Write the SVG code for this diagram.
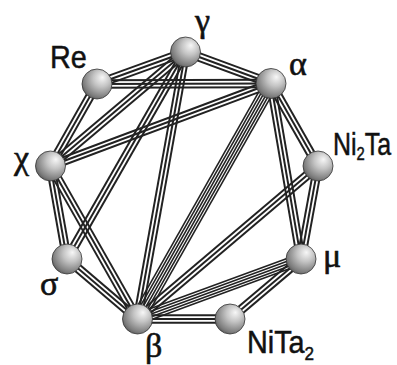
<svg xmlns="http://www.w3.org/2000/svg" width="397" height="365" viewBox="0 0 397 365">
<defs>
<radialGradient id="sph" cx="0.62" cy="0.36" r="0.7" fx="0.68" fy="0.28">
<stop offset="0" stop-color="#f7f7f7"/>
<stop offset="0.4" stop-color="#c4c4c4"/>
<stop offset="0.85" stop-color="#7c7c7c"/>
<stop offset="1" stop-color="#5a5a5a"/>
</radialGradient>
<style>
.c line{stroke:#222222;stroke-width:2;fill:none}
.m line{stroke:#222222;stroke-width:1.6;fill:none}
.node circle{fill:url(#sph);stroke:#333333;stroke-width:0.8}
.gr{font-family:"Liberation Serif","Times New Roman",serif;font-size:34px;fill:#111111;stroke:#111111;stroke-width:0.6}
.lt{font-family:"Liberation Sans",Arial,sans-serif;font-size:32px;fill:#111111;stroke:#111111;stroke-width:0.5}
</style>
</defs>
<rect width="397" height="365" fill="#ffffff"/>
<g id="connectors">
<!-- Re - gamma -->
<g class="c" transform="translate(97 84) rotate(-19.88)"><line x1="0" y1="-3.8" x2="94.1" y2="-3.8"/><line x1="0" y1="0" x2="94.1" y2="0"/><line x1="0" y1="3.8" x2="94.1" y2="3.8"/></g>
<!-- Re - alpha -->
<g class="c" transform="translate(97 84) rotate(-0.16)"><line x1="0" y1="-3.8" x2="174" y2="-3.8"/><line x1="0" y1="0" x2="174" y2="0"/><line x1="0" y1="3.8" x2="174" y2="3.8"/></g>
<!-- gamma - alpha -->
<g class="c" transform="translate(185.5 52) rotate(20.22)"><line x1="0" y1="-3.8" x2="91.1" y2="-3.8"/><line x1="0" y1="0" x2="91.1" y2="0"/><line x1="0" y1="3.8" x2="91.1" y2="3.8"/></g>
<!-- chi - gamma -->
<g class="c" transform="translate(50.5 166) rotate(-40.18)"><line x1="0" y1="-3.8" x2="176.7" y2="-3.8"/><line x1="0" y1="0" x2="176.7" y2="0"/><line x1="0" y1="3.8" x2="176.7" y2="3.8"/></g>
<!-- sigma - gamma -->
<g class="c" transform="translate(67 259) rotate(-60.21)"><line x1="0" y1="-3.8" x2="238.5" y2="-3.8"/><line x1="0" y1="0" x2="238.5" y2="0"/><line x1="0" y1="3.8" x2="238.5" y2="3.8"/></g>
<!-- beta - gamma -->
<g class="c" transform="translate(137.5 319) rotate(-79.81)"><line x1="0" y1="-3.8" x2="271.3" y2="-3.8"/><line x1="0" y1="0" x2="271.3" y2="0"/><line x1="0" y1="3.8" x2="271.3" y2="3.8"/></g>
<!-- chi - alpha -->
<g class="c" transform="translate(50.5 166) rotate(-20.51)"><line x1="0" y1="-3.8" x2="235.4" y2="-3.8"/><line x1="0" y1="0" x2="235.4" y2="0"/><line x1="0" y1="3.8" x2="235.4" y2="3.8"/></g>
<!-- chi - Re -->
<g class="c" transform="translate(50.5 166) rotate(-60.45)"><line x1="0" y1="-3.8" x2="94.3" y2="-3.8"/><line x1="0" y1="0" x2="94.3" y2="0"/><line x1="0" y1="3.8" x2="94.3" y2="3.8"/></g>
<!-- chi - sigma -->
<g class="c" transform="translate(50.5 166) rotate(79.94)"><line x1="0" y1="-3.8" x2="94.5" y2="-3.8"/><line x1="0" y1="0" x2="94.5" y2="0"/><line x1="0" y1="3.8" x2="94.5" y2="3.8"/></g>
<!-- chi - beta -->
<g class="c" transform="translate(50.5 166) rotate(60.38)"><line x1="0" y1="-3.8" x2="176" y2="-3.8"/><line x1="0" y1="0" x2="176" y2="0"/><line x1="0" y1="3.8" x2="176" y2="3.8"/></g>
<!-- sigma - beta -->
<g class="c" transform="translate(67 259) rotate(40.4)"><line x1="0" y1="-3.8" x2="92.6" y2="-3.8"/><line x1="0" y1="0" x2="92.6" y2="0"/><line x1="0" y1="3.8" x2="92.6" y2="3.8"/></g>
<!-- beta - alpha (6) -->
<g class="m" transform="translate(137.5 319) rotate(-60.45)"><line x1="0" y1="-6.5" x2="270.7" y2="-6.5"/><line x1="0" y1="-3.9" x2="270.7" y2="-3.9"/><line x1="0" y1="-1.3" x2="270.7" y2="-1.3"/><line x1="0" y1="1.3" x2="270.7" y2="1.3"/><line x1="0" y1="3.9" x2="270.7" y2="3.9"/><line x1="0" y1="6.5" x2="270.7" y2="6.5"/></g>
<!-- alpha - Ni2Ta -->
<g class="c" transform="translate(271 83.5) rotate(60.33)"><line x1="0" y1="-3.8" x2="95" y2="-3.8"/><line x1="0" y1="0" x2="95" y2="0"/><line x1="0" y1="3.8" x2="95" y2="3.8"/></g>
<!-- alpha - mu -->
<g class="c" transform="translate(271 83.5) rotate(80.3)"><line x1="0" y1="-3.8" x2="178" y2="-3.8"/><line x1="0" y1="0" x2="178" y2="0"/><line x1="0" y1="3.8" x2="178" y2="3.8"/></g>
<!-- Ni2Ta - mu -->
<g class="c" transform="translate(318 166) rotate(100.36)"><line x1="0" y1="-3.8" x2="94.5" y2="-3.8"/><line x1="0" y1="0" x2="94.5" y2="0"/><line x1="0" y1="3.8" x2="94.5" y2="3.8"/></g>
<!-- beta - Ni2Ta -->
<g class="c" transform="translate(137.5 319) rotate(-40.29)"><line x1="0" y1="-3.8" x2="236.6" y2="-3.8"/><line x1="0" y1="0" x2="236.6" y2="0"/><line x1="0" y1="3.8" x2="236.6" y2="3.8"/></g>
<!-- beta - mu (5) -->
<g class="m" transform="translate(137.5 319) rotate(-20.15)"><line x1="0" y1="-5.2" x2="174.2" y2="-5.2"/><line x1="0" y1="-2.6" x2="174.2" y2="-2.6"/><line x1="0" y1="0" x2="174.2" y2="0"/><line x1="0" y1="2.6" x2="174.2" y2="2.6"/><line x1="0" y1="5.2" x2="174.2" y2="5.2"/></g>
<!-- NiTa2 - mu -->
<g class="c" transform="translate(230 319) rotate(-40.2)"><line x1="0" y1="-3.8" x2="93" y2="-3.8"/><line x1="0" y1="0" x2="93" y2="0"/><line x1="0" y1="3.8" x2="93" y2="3.8"/></g>
<!-- beta - NiTa2 -->
<g class="c" transform="translate(137.5 319)"><line x1="0" y1="-3.8" x2="92.5" y2="-3.8"/><line x1="0" y1="0" x2="92.5" y2="0"/><line x1="0" y1="3.8" x2="92.5" y2="3.8"/></g>
</g>
<g id="n-gamma" class="node"><circle cx="185.5" cy="52" r="15"/><text class="gr" x="195" y="32">γ</text></g>
<g id="n-Re" class="node"><circle cx="97" cy="84" r="15"/><text class="lt" transform="translate(50 68) scale(0.9 1)">Re</text></g>
<g id="n-alpha" class="node"><circle cx="271" cy="83.5" r="15"/><text class="gr" x="289" y="75">α</text></g>
<g id="n-Ni2Ta" class="node"><circle cx="318" cy="166" r="15"/><text class="lt" transform="translate(333 155) scale(0.78 1)">Ni<tspan font-size="19" dy="5">2</tspan><tspan dy="-5">Ta</tspan></text></g>
<g id="n-chi" class="node"><circle cx="50.5" cy="166" r="15"/><text class="gr" x="14" y="169">χ</text></g>
<g id="n-mu" class="node"><circle cx="301" cy="259" r="15"/><text class="gr" x="323" y="267">μ</text></g>
<g id="n-sigma" class="node"><circle cx="67" cy="259" r="15"/><text class="gr" x="40" y="295">σ</text></g>
<g id="n-beta" class="node"><circle cx="137.5" cy="319" r="15"/><text class="gr" x="145" y="357">β</text></g>
<g id="n-NiTa2" class="node"><circle cx="230" cy="319" r="15"/><text class="lt" transform="translate(247 353) scale(0.9 1)">NiTa<tspan font-size="19" dy="7">2</tspan></text></g>
</svg>
